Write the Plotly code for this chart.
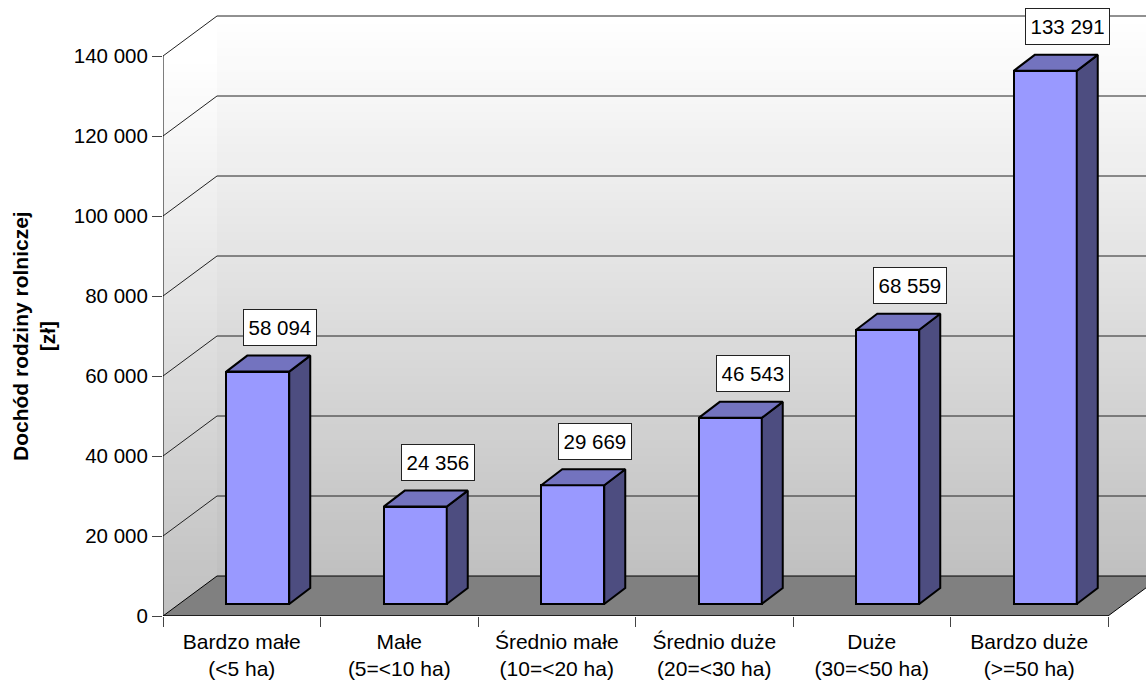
import plotly.graph_objects as go

categories = ["Bardzo małe<br>(<5 ha)", "Małe<br>(5=<10 ha)", "Średnio małe<br>(10=<20 ha)",
              "Średnio duże<br>(20=<30 ha)", "Duże<br>(30=<50 ha)", "Bardzo duże<br>(>=50 ha)"]
values = [58094, 24356, 29669, 46543, 68559, 133291]
y_ticks = [0, 20000, 40000, 60000, 80000, 100000, 120000, 140000]
y_ticktext = ["0", "20 000", "40 000", "60 000", "80 000", "100 000", "120 000", "140 000"]
y_title = ["Dochód rodziny rolniczej", "[zł]"]

# chart geometry in axis units (1 x unit = one category, y unit = zł)
XMAX = 983 / 157.5
YMAX = 606 / 0.004
WALL_DX, WALL_DY = 54 / 157.5, 10000
BAR_W = 0.4
BAR_SHIFT_X, BAR_BASE = 16 / 157.5, 3000
BAR_DX, BAR_DY = 21 / 157.5, 4000
LABEL_UP = 11000
FONT = "Liberation Sans, Arial, sans-serif"
FS = 20.5

shapes = []
N = 70


def shade(t):
    c = round(255 + (192 - 255) * t)
    return f"rgb({c},{c},{c})"


# left wall: horizontal bands, painted from the top down
for i in range(N):
    level = 140000 * (1 - i / N)
    shapes.append(dict(type="rect", xref="x", yref="y", layer="below", x0=0, x1=WALL_DX,
                       y0=0, y1=level, fillcolor=shade(i / (N - 1)), line=dict(width=0)))
# back wall
for i in range(N):
    level = 150000 - 140000 * i / N
    shapes.append(dict(type="rect", xref="x", yref="y", layer="below", x0=WALL_DX, x1=XMAX,
                       y0=WALL_DY, y1=level, fillcolor=shade(i / (N - 1)), line=dict(width=0)))
# floor
shapes.append(dict(type="path", xref="x", yref="y", layer="below", fillcolor="#808080",
                   line=dict(color="black", width=1),
                   path=f"M 0 0 L 6 0 L {6 + WALL_DX} {WALL_DY} L {WALL_DX} {WALL_DY} Z"))
# gridlines on the walls
for v in y_ticks[1:]:
    shapes.append(dict(type="path", xref="x", yref="y", layer="below",
                       line=dict(color="#222222", width=1),
                       path=f"M 0 {v} L {WALL_DX} {v + WALL_DY} L {XMAX + 1} {v + WALL_DY}"))

fig = go.Figure()
centers = [i + 0.5 + BAR_SHIFT_X for i in range(len(values))]
EDGE = dict(color="black", width=2)

fig.add_trace(go.Bar(x=centers, y=values, base=BAR_BASE, width=BAR_W,
                     marker=dict(color="#9999FF", line=EDGE),
                     showlegend=False, hoverinfo="skip"))

for xc, v in zip(centers, values):
    l, r, top = xc - BAR_W / 2, xc + BAR_W / 2, v + BAR_BASE
    fig.add_trace(go.Scatter(
        x=[r, r + BAR_DX, r + BAR_DX, r, r],
        y=[BAR_BASE, BAR_BASE + BAR_DY, top + BAR_DY, top, BAR_BASE],
        mode="lines", fill="toself", fillcolor="#4D4D80",
        line=EDGE, showlegend=False, hoverinfo="skip"))
    fig.add_trace(go.Scatter(
        x=[l, r, r + BAR_DX, l + BAR_DX, l],
        y=[top, top, top + BAR_DY, top + BAR_DY, top],
        mode="lines", fill="toself", fillcolor="#7373BF",
        line=EDGE, showlegend=False, hoverinfo="skip"))

# value axis line and front floor edge, drawn unclipped
fig.add_trace(go.Scatter(x=[0, 0], y=[0, y_ticks[-1]], mode="lines", cliponaxis=False,
                         line=dict(color="black", width=1), showlegend=False, hoverinfo="skip"))
fig.add_trace(go.Scatter(x=[0, 6], y=[0, 0], mode="lines", cliponaxis=False,
                         line=dict(color="black", width=1), showlegend=False, hoverinfo="skip"))

annotations = []
for xc, v in zip(centers, values):
    s = f"{v:,}".replace(",", " ")
    annotations.append(dict(x=xc + BAR_DX + 0.008, y=v + BAR_BASE + LABEL_UP, text=s, showarrow=False,
                            xref="x", yref="y", font=dict(family=FONT, size=FS, color="black"),
                            bgcolor="white", bordercolor="#222222", borderwidth=1, borderpad=4.5,
                            height=26))
annotations.append(dict(x=(34 - 163) / 983, y=(616 - 336) / 606, xref="paper", yref="paper",
                        text=f"<b>{y_title[0]}</b><br><b>{y_title[1]}</b>",
                        textangle=-90, showarrow=False, xanchor="center", yanchor="middle",
                        font=dict(family=FONT, size=21, color="black")))

fig.update_layout(
    width=1146, height=680, margin=dict(l=163, r=0, t=10, b=64, autoexpand=False),
    paper_bgcolor="white", plot_bgcolor="white", showlegend=False,
    shapes=shapes, annotations=annotations, bargap=0,
    font=dict(family=FONT, size=FS, color="black"),
    xaxis=dict(range=[0, XMAX], tickmode="array",
               tickvals=[i + 0.5 for i in range(6)], ticktext=categories,
               ticks="", showgrid=False, zeroline=False, showline=False, automargin=False,
               tickangle=0, tickfont=dict(family=FONT, size=21), ticklabelstandoff=11,
               minor=dict(tickmode="array", tickvals=list(range(7)), ticks="outside",
                          ticklen=10, tickcolor="#444444", tickwidth=1, showgrid=False)),
    yaxis=dict(range=[0, YMAX], tickmode="array", tickvals=y_ticks, ticktext=y_ticktext,
               ticks="outside", ticklen=10, tickcolor="#444444", tickwidth=1,
               showgrid=False, zeroline=False, showline=False, automargin=False,
               tickfont=dict(family=FONT, size=FS)),
)

fig.write_html("out.html", config={"displayModeBar": False},
               post_script="document.body.style.margin='0';document.body.style.overflow='hidden';")
